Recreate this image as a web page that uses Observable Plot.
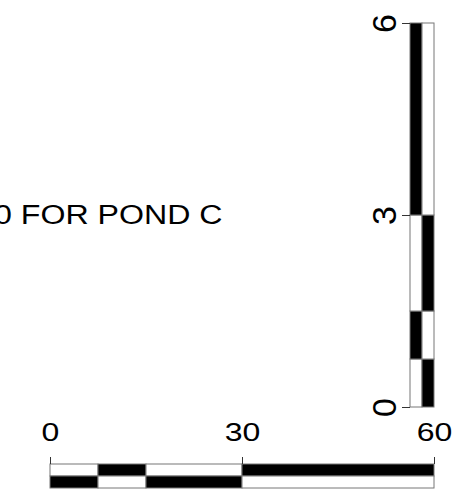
<!DOCTYPE html>
<html>
<head>
<meta charset="utf-8">
<script src="https://cdn.jsdelivr.net/npm/d3@7"></script>
<script src="https://cdn.jsdelivr.net/npm/@observablehq/plot@0.6"></script>
<style>
  html, body { margin: 0; padding: 0; background: #fff; }
  #wrap { position: relative; width: 459px; height: 491px; overflow: hidden; }
  #wrap svg { position: absolute; left: 0; top: 0; }
</style>
</head>
<body>
<div id="wrap"></div>
<script>
// ---- data ----
const caption = "0 FOR POND C";

// vertical scale bar (units 0..6), two columns
const vertTicks = [0, 3, 6];
const vertCols = ["left", "right"];
const vertFrom = [0, 0.75, 1.5, 3, 0, 0.75, 1.5, 3];
const vertTo   = [0.75, 1.5, 3, 6, 0.75, 1.5, 3, 6];
const vertCol  = ["left", "left", "left", "left", "right", "right", "right", "right"];
const vertDark = [false, true, false, true, true, false, true, false];

// horizontal scale bar (units 0..60), two rows
const horizTicks = [0, 30, 60];
const horizRows = ["top", "bottom"];
const horizFrom = [0, 7.5, 15, 30, 0, 7.5, 15, 30];
const horizTo   = [7.5, 15, 30, 60, 7.5, 15, 30, 60];
const horizRow  = ["top", "top", "top", "top", "bottom", "bottom", "bottom", "bottom"];
const horizDark = [false, true, false, true, true, false, true, false];

const vertData = vertFrom.map((f, i) => ({from: f, to: vertTo[i], col: vertCol[i], dark: vertDark[i]}));
const horizData = horizFrom.map((f, i) => ({from: f, to: horizTo[i], row: horizRow[i], dark: horizDark[i]}));

const font = "'Liberation Sans', Arial, sans-serif";
const W = 459, H = 491;

const vertPlot = Plot.plot({
  width: W, height: H,
  marginLeft: 410, marginRight: 25, marginTop: 23, marginBottom: 84,
  style: {fontFamily: font, background: "transparent", overflow: "visible"},
  x: {type: "band", domain: vertCols, padding: 0, axis: null},
  y: {domain: [0, 6]},
  marks: [
    Plot.rectY(vertData, {x: "col", y1: "from", y2: "to",
      fill: d => d.dark ? "black" : "white", stroke: "#777", strokeWidth: 1}),
    Plot.axisY({ticks: vertTicks, tickFormat: "d", tickSize: 8, tickRotate: -90, tickPadding: 7,
      fontSize: 34, stroke: "#333", fill: "black", label: null}),
    Plot.text([caption], {y: () => 3, frameAnchor: "left", textAnchor: "end",
      dx: -188, fontSize: 27, fill: "black", className: "stretch-cap"})
  ]
});

const horizPlot = Plot.plot({
  width: W, height: H,
  marginLeft: 50, marginRight: 25, marginTop: 463, marginBottom: 3,
  style: {fontFamily: font, background: "transparent", overflow: "visible"},
  x: {domain: [0, 60]},
  y: {type: "band", domain: horizRows, padding: 0, axis: null},
  marks: [
    Plot.rectX(horizData, {y: "row", x1: "from", x2: "to",
      fill: d => d.dark ? "black" : "white", stroke: "#777", strokeWidth: 1}),
    Plot.axisX({anchor: "top", ticks: horizTicks, tickSize: 7, tickPadding: 16,
      fontSize: 25, stroke: "#333", fill: "black", label: null})
  ]
});

const wrap = document.getElementById("wrap");
wrap.appendChild(vertPlot);
wrap.appendChild(horizPlot);

// the reference draws its horizontal lettering slightly widened
function widen(root, factor) {
  d3.select(root).selectAll("text").each(function () {
    const len = this.getComputedTextLength();
    if (len > 0) {
      this.setAttribute("textLength", len * factor);
      this.setAttribute("lengthAdjust", "spacingAndGlyphs");
    }
  });
}
widen(horizPlot, 1.28);
d3.select(vertPlot).selectAll(".stretch-cap").each(function () { widen(this, 1.19); });
</script>
</body>
</html>
